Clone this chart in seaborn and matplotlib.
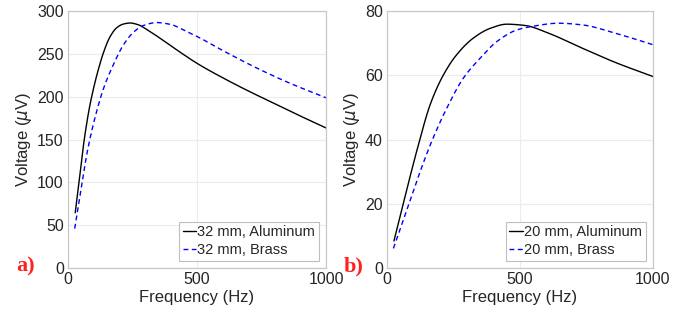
import numpy as np
import pandas as pd
import matplotlib
matplotlib.use("Agg")
import matplotlib.pyplot as plt
import seaborn as sns

# ---- data ----
freq_a_al = [28, 44, 63, 83, 100, 117, 137, 163, 189, 214, 240, 272, 305, 369, 434, 505, 600, 700, 800, 900, 1000]
volt_a_al = [64.5, 103, 150, 187, 211, 231, 251, 270, 280.5, 284.7, 286, 284, 278.5, 265.7, 252, 238, 222, 206.5, 192, 177.5, 163.5]
freq_a_br = [26, 50, 76, 109, 137, 176, 214, 253, 292, 344, 395, 460, 505, 602, 731, 860, 1000]
volt_a_br = [46, 91, 137.7, 180.5, 209, 237.5, 260, 275, 283, 286.5, 284.5, 276, 269.5, 253.5, 233.5, 215.7, 198.7]

freq_b_al = [26, 118, 162, 212, 262, 325, 388, 450, 519, 607, 732, 858, 1000]
volt_b_al = [8.4, 38.3, 50.8, 60.1, 66.4, 71.6, 74.6, 75.9, 75.5, 73.1, 68.5, 64.0, 59.6]
freq_b_br = [24, 168, 225, 287, 350, 413, 488, 545, 645, 732, 858, 1000]
volt_b_br = [6.1, 39.4, 49.8, 59.1, 65.3, 70.5, 74.1, 75.2, 76.2, 75.7, 73.1, 69.5]

labels_a = ["32 mm, Aluminum", "32 mm, Brass"]
labels_b = ["20 mm, Aluminum", "20 mm, Brass"]
panel_tags = ["a)", "b)"]
xticks = [0, 500, 1000]
yticks_a = [0, 50, 100, 150, 200, 250, 300]
yticks_b = [0, 20, 40, 60, 80]

def smooth(xs, ys, n=300):
    xs = np.asarray(xs, float); ys = np.asarray(ys, float)
    # monotone cubic (PCHIP-like) interpolation through the read points
    h = np.diff(xs); d = np.diff(ys) / h
    m = np.zeros_like(ys)
    for k in range(1, len(xs) - 1):
        if d[k-1] * d[k] > 0:
            w1 = 2*h[k] + h[k-1]; w2 = h[k] + 2*h[k-1]
            m[k] = (w1 + w2) / (w1/d[k-1] + w2/d[k])
    m[0] = d[0]; m[-1] = d[-1]
    xo = np.linspace(xs[0], xs[-1], n)
    yo = np.empty_like(xo)
    for i, x in enumerate(xo):
        k = min(np.searchsorted(xs, x, side="right") - 1, len(xs) - 2)
        t = (x - xs[k]) / h[k]
        h00 = 2*t**3 - 3*t**2 + 1; h10 = t**3 - 2*t**2 + t
        h01 = -2*t**3 + 3*t**2; h11 = t**3 - t**2
        yo[i] = h00*ys[k] + h10*h[k]*m[k] + h01*ys[k+1] + h11*h[k]*m[k+1]
    return xo, yo

def frame(fx, fy, fx2, fy2, labs):
    x1, y1 = smooth(fx, fy); x2, y2 = smooth(fx2, fy2)
    return pd.concat([
        pd.DataFrame({"f": x1, "v": y1, "s": labs[0]}),
        pd.DataFrame({"f": x2, "v": y2, "s": labs[1]}),
    ])

sns.set_theme(style="whitegrid")
plt.rcParams['font.family'] = ['Liberation Sans', 'DejaVu Sans']
plt.rcParams['mathtext.fontset'] = 'dejavusans'

fig = plt.figure(figsize=(6.94, 3.2), dpi=100)
W, H = 694, 320
ax_a = fig.add_axes([68/W, 1-268/H, (326-68)/W, (268-11)/H])
ax_b = fig.add_axes([387/W, 1-268/H, (653-387)/W, (268-11)/H])

txtc = "#262626"
for ax, df, labs, yt, tag, xtag in [
        (ax_a, frame(freq_a_al, volt_a_al, freq_a_br, volt_a_br, labels_a), labels_a, yticks_a, panel_tags[0], 16),
        (ax_b, frame(freq_b_al, volt_b_al, freq_b_br, volt_b_br, labels_b), labels_b, yticks_b, panel_tags[1], 344)]:
    sns.lineplot(data=df, x="f", y="v", hue="s", style="s",
                 palette={labs[0]: "black", labs[1]: "#0000ff"},
                 dashes={labs[0]: "", labs[1]: (3.5, 2.5)},
                 linewidth=1.0, ax=ax, legend=True)
    ax.set_xlim(0, 1000)
    ax.set_ylim(yt[0], yt[-1])
    ax.set_xticks(xticks)
    ax.set_yticks(yt)
    ax.grid(True, color="#ececec", linewidth=0.8)
    for s in ax.spines.values():
        s.set_visible(True); s.set_color("#c8c8c8"); s.set_linewidth(0.9)
    ax.tick_params(axis="both", labelsize=11.5, colors=txtc, length=0, pad=3)
    ax.set_xlabel("Frequency (Hz)", fontsize=12, color=txtc, labelpad=2)
    ax.set_ylabel(r"Voltage ($\mu$V)", fontsize=12, color=txtc, labelpad=2)
    leg = ax.legend(loc="lower right", fontsize=10.5, frameon=True, fancybox=False,
                    handlelength=0.9, handletextpad=0.1, borderpad=0.25,
                    labelspacing=0.25, borderaxespad=0.5)
    leg.get_frame().set_edgecolor("#b0b0b0")
    leg.get_frame().set_linewidth(0.8)
    for t in leg.get_texts():
        t.set_color(txtc)
    fig.text(xtag/W, 1-271/H, tag, color="#ff2020", fontsize=16, fontweight="bold",
             family="Liberation Serif", ha="left", va="baseline")

fig.savefig("out.png", dpi=100)
